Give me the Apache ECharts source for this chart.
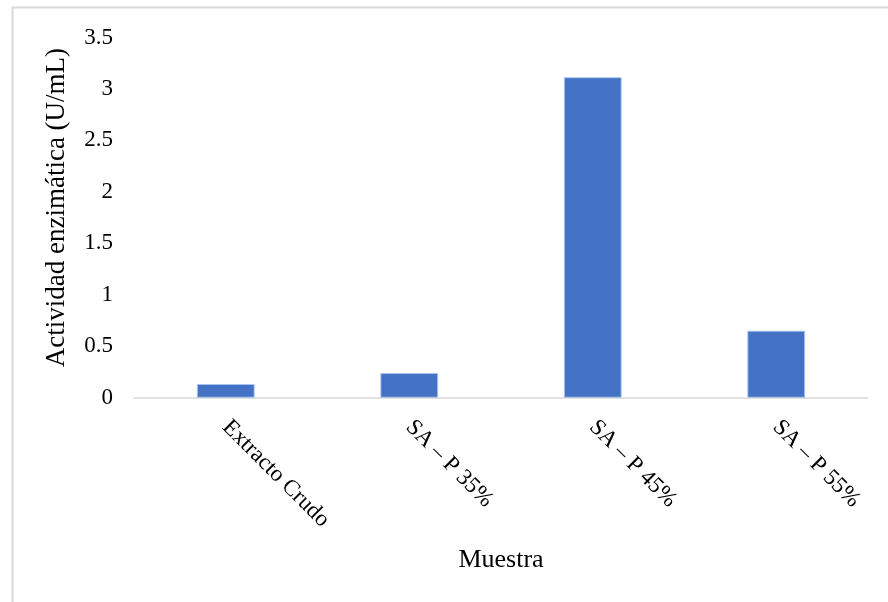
<!DOCTYPE html>
<html>
<head>
<meta charset="utf-8">
<script src="https://cdn.jsdelivr.net/npm/echarts@6/dist/echarts.min.js"></script>
<style>
html,body{margin:0;padding:0;background:#fff;}
#chart{width:888px;height:602px;}
</style>
</head>
<body>
<div id="chart"></div>
<script>
const categories = ['Extracto Crudo', 'SA – P 35%', 'SA – P 45%', 'SA – P 55%'];
const actividad = [0.133, 0.24, 3.114, 0.651];
const yTicks = { min: 0, max: 3.5, interval: 0.5 };
const xTitle = 'Muestra';
const yTitle = 'Actividad enzimática (U/mL)';

const FONT = '"Liberation Serif", "Times New Roman", serif';
const chart = echarts.init(document.getElementById('chart'), null, { renderer: 'canvas' });
chart.setOption({
  animation: false,
  backgroundColor: '#ffffff',
  graphic: [{
    type: 'rect',
    shape: { x: 12.5, y: 7.5, width: 1000, height: 1000 },
    style: { fill: 'none', stroke: '#d9d9d9', lineWidth: 2 },
    silent: true
  }],
  grid: { left: 134, right: 20, top: 37.5, bottom: 204.3, containLabel: false },
  xAxis: {
    type: 'category',
    data: categories,
    name: xTitle,
    nameLocation: 'middle',
    nameGap: 149,
    nameTextStyle: { fontFamily: FONT, fontSize: 26, color: '#000' },
    axisLine: { show: true, lineStyle: { color: '#d9d9d9', width: 1.6 } },
    axisTick: { show: false },
    axisLabel: {
      interval: 0,
      rotate: -45,
      margin: 26,
      padding: [37, 0, 0, 0],
      fontFamily: FONT,
      fontSize: 23,
      color: '#000'
    },
    splitLine: { show: false }
  },
  yAxis: {
    type: 'value',
    min: yTicks.min,
    max: yTicks.max,
    interval: yTicks.interval,
    name: yTitle,
    nameLocation: 'middle',
    nameRotate: 90,
    nameGap: 64,
    nameTextStyle: { fontFamily: FONT, fontSize: 27, color: '#000', padding: [0, 0, 0, 20] },
    axisLine: { show: false },
    axisTick: { show: false },
    splitLine: { show: false },
    axisLabel: {
      margin: 21,
      fontFamily: FONT,
      fontSize: 23,
      color: '#000',
      formatter: v => String(v)
    }
  },
  series: [{
    type: 'bar',
    data: actividad,
    barWidth: '31.5%',
    itemStyle: { color: '#4472c4', borderColor: 'rgba(170,195,240,0.9)', borderWidth: 1 }
  }]
});
</script>
</body>
</html>
